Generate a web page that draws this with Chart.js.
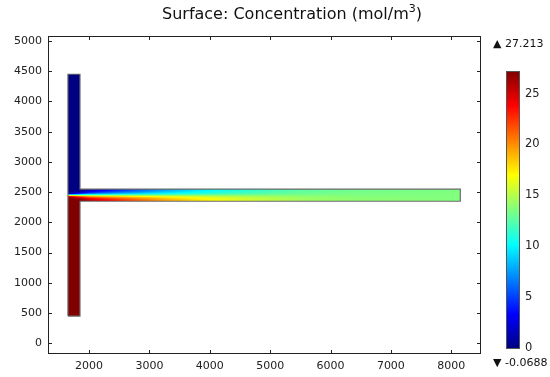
<!DOCTYPE html>
<html>
<head>
<meta charset="utf-8">
<script src="https://cdn.jsdelivr.net/npm/chart.js@4.4.1/dist/chart.umd.min.js"></script>
<style>
  html, body { margin: 0; padding: 0; background: #fff; }
  #wrap { position: relative; width: 550px; height: 377px; overflow: hidden; }
  #main { position: absolute; left: 0; top: 0; }
  #bar { position: absolute; left: 490px; top: 30px; }
</style>
</head>
<body>
<div id="wrap">
  <canvas id="main" width="550" height="377"></canvas>
  <canvas id="bar" width="60" height="347"></canvas>
</div>
<script>
// ---- axis ticks ----
const xTicks = [2000, 3000, 4000, 5000, 6000, 7000, 8000];
const yTicks = [0, 500, 1000, 1500, 2000, 2500, 3000, 3500, 4000, 4500, 5000];
const colorTicks = [0, 5, 10, 15, 20, 25];

// ---- colour range of the surface (mol/m^3) ----
const cMin = -0.0688;
const cMax = 27.213;

// ---- T-mixer geometry (um) ----
const inletX = [1650, 1850];          // vertical inlet channel, x extent
const inletY = [450, 4450];           // vertical inlet channel, y extent
const mixX = [1650, 8150];            // mixing band incl. junction, x extent
const mixY = [2350, 2550];            // mixing band, y extent
const wallX = [1650, 1850, 1850, 8150, 8150, 1850, 1850, 1650, 1650];
const wallY = [450, 450, 2350, 2350, 2550, 2550, 4450, 4450, 450];

// ---- inlet concentrations ----
const cTopInlet = 0;
const cBottomInlet = 27.213;

// ---- concentration across the mixing channel ----
// stations along the channel, levels across it (bottom -> top)
const stationX = [1650, 1850, 2000, 2200, 2500, 2850, 3250, 3700, 4200, 4800, 5500, 6300, 8150];
const levelY = [2350, 2375, 2400, 2425, 2450, 2475, 2500, 2525, 2550];
const conc1650 = [27.2, 27.2, 27.1, 26.2, 13.6, 1.0, 0.1, 0.0, 0.0];
const conc1850 = [27.2, 27.0, 26.0, 22.5, 13.6, 4.7, 1.2, 0.2, 0.0];
const conc2000 = [26.0, 25.3, 23.8, 20.5, 13.6, 6.7, 3.4, 1.9, 1.2];
const conc2200 = [24.5, 24.0, 22.5, 19.5, 13.6, 7.7, 4.7, 3.2, 2.7];
const conc2500 = [23.0, 22.4, 21.0, 18.5, 13.6, 8.7, 6.2, 4.8, 4.2];
const conc2850 = [21.2, 20.8, 19.7, 17.6, 13.6, 9.6, 7.5, 6.4, 6.0];
const conc3250 = [19.6, 19.2, 18.4, 16.8, 13.6, 10.4, 8.8, 8.0, 7.6];
const conc3700 = [18.0, 17.8, 17.2, 16.0, 13.6, 11.2, 10.0, 9.4, 9.2];
const conc4200 = [16.8, 16.6, 16.2, 15.3, 13.6, 11.9, 11.0, 10.6, 10.4];
const conc4800 = [15.6, 15.5, 15.2, 14.7, 13.6, 12.5, 12.0, 11.7, 11.6];
const conc5500 = [14.6, 14.5, 14.4, 14.1, 13.6, 13.1, 12.8, 12.7, 12.6];
const conc6300 = [14.0, 14.0, 13.9, 13.8, 13.6, 13.4, 13.3, 13.2, 13.2];
const conc8150 = [13.65, 13.65, 13.6, 13.6, 13.6, 13.6, 13.6, 13.55, 13.55];
const profiles = [conc1650, conc1850, conc2000, conc2200, conc2500, conc2850, conc3250,
                  conc3700, conc4200, conc4800, conc5500, conc6300, conc8150];

const FONT = 'DejaVu Sans';
Chart.defaults.font.family = FONT;
Chart.defaults.color = '#222';

// rainbow (jet) colour table
function jet(v) {
  let t = (v - cMin) / (cMax - cMin);
  t = Math.max(0, Math.min(1, t));
  const c = (u) => Math.max(0, Math.min(1, 1.5 - Math.abs(u)));
  return [Math.round(255 * c(4 * t - 3)), Math.round(255 * c(4 * t - 2)), Math.round(255 * c(4 * t - 1))];
}
function jetCss(v) { const [r, g, b] = jet(v); return `rgb(${r},${g},${b})`; }

function locate(arr, v) {
  let i = 0;
  while (i < arr.length - 2 && v > arr[i + 1]) i++;
  let f = (v - arr[i]) / (arr[i + 1] - arr[i]);
  return [i, Math.max(0, Math.min(1, f))];
}

// concentration at a point of the domain (null outside it)
function concAt(x, y) {
  if (x >= mixX[0] && x <= mixX[1] && y >= mixY[0] && y <= mixY[1]) {
    const [i, fx] = locate(stationX, x);
    const [j, fy] = locate(levelY, y);
    const a = profiles[i][j], b = profiles[i + 1][j];
    const c = profiles[i][j + 1], d = profiles[i + 1][j + 1];
    return (a * (1 - fx) + b * fx) * (1 - fy) + (c * (1 - fx) + d * fx) * fy;
  }
  if (x >= inletX[0] && x <= inletX[1] && y >= inletY[0] && y <= inletY[1]) {
    return y > mixY[1] ? cTopInlet : cBottomInlet;
  }
  return null;
}

// surface plot painted pixel by pixel through the chart scales
const surfacePlugin = {
  id: 'surface',
  beforeDatasetsDraw(chart) {
    const xs = chart.scales.x, ys = chart.scales.y, ctx = chart.ctx;
    const x0 = Math.floor(xs.getPixelForValue(Math.min(inletX[0], mixX[0])));
    const x1 = Math.ceil(xs.getPixelForValue(mixX[1]));
    const y0 = Math.floor(ys.getPixelForValue(inletY[1]));
    const y1 = Math.ceil(ys.getPixelForValue(inletY[0]));
    const w = x1 - x0, h = y1 - y0;
    const off = document.createElement('canvas');
    off.width = w; off.height = h;
    const octx = off.getContext('2d');
    const img = octx.createImageData(w, h);
    for (let py = 0; py < h; py++) {
      const yv = ys.getValueForPixel(y0 + py + 0.5);
      for (let px = 0; px < w; px++) {
        const xv = xs.getValueForPixel(x0 + px + 0.5);
        const c = concAt(xv, yv);
        if (c === null) continue;
        const [r, g, b] = jet(c);
        const k = (py * w + px) * 4;
        img.data[k] = r; img.data[k + 1] = g; img.data[k + 2] = b; img.data[k + 3] = 255;
      }
    }
    octx.putImageData(img, 0, 0);
    ctx.drawImage(off, x0, y0);
  }
};

// frame, inward ticks and title
const framePlugin = {
  id: 'frame',
  afterDraw(chart) {
    const { ctx, chartArea: a } = chart;
    const xs = chart.scales.x, ys = chart.scales.y;
    ctx.save();
    ctx.strokeStyle = '#222';
    ctx.lineWidth = 1;
    ctx.strokeRect(Math.round(a.left) + 0.5, Math.round(a.top) + 0.5,
                   Math.round(a.right - a.left) - 1, Math.round(a.bottom - a.top) - 1);
    ctx.beginPath();
    xTicks.forEach(v => {
      const p = Math.round(xs.getPixelForValue(v)) + 0.5;
      ctx.moveTo(p, a.bottom); ctx.lineTo(p, a.bottom - 4);
      ctx.moveTo(p, a.top); ctx.lineTo(p, a.top + 4);
    });
    yTicks.forEach(v => {
      const p = Math.round(ys.getPixelForValue(v)) + 0.5;
      ctx.moveTo(a.left, p); ctx.lineTo(a.left + 4, p);
      ctx.moveTo(a.right, p); ctx.lineTo(a.right - 4, p);
    });
    ctx.stroke();

    // title with superscript unit
    ctx.fillStyle = '#111';
    ctx.textBaseline = 'alphabetic';
    ctx.textAlign = 'left';
    const main = 'Surface: Concentration (mol/m';
    ctx.font = `16px ${FONT}`;
    let x = 162;
    const base = 19;
    ctx.fillText(main, x, base);
    x += ctx.measureText(main).width;
    ctx.font = `11px ${FONT}`;
    ctx.fillText('3', x, base - 7);
    x += ctx.measureText('3').width;
    ctx.font = `16px ${FONT}`;
    ctx.fillText(')', x, base);
    ctx.restore();
  }
};

const plain = (v) => String(v);

new Chart(document.getElementById('main'), {
  type: 'scatter',
  data: {
    datasets: [{
      data: wallX.map((x, i) => ({ x, y: wallY[i] })),
      showLine: true,
      borderColor: '#6a6a6a',
      borderWidth: 1.2,
      pointRadius: 0,
      fill: false
    }]
  },
  options: {
    responsive: false,
    animation: false,
    devicePixelRatio: 1,
    layout: { padding: { top: 36, right: 69, left: 0, bottom: 0 } },
    plugins: { legend: { display: false }, tooltip: { enabled: false }, title: { display: false } },
    scales: {
      x: {
        type: 'linear', min: 1320, max: 8493,
        grid: { display: false, drawTicks: false },
        border: { display: false },
        ticks: { font: { size: 11 }, padding: 6, maxRotation: 0, color: '#222', callback: plain },
        afterBuildTicks(s) { s.ticks = xTicks.map(v => ({ value: v })); },
        afterFit(s) { s.height = 23; }
      },
      y: {
        type: 'linear', min: -177, max: 5083,
        grid: { display: false, drawTicks: false },
        border: { display: false },
        ticks: { font: { size: 11 }, padding: 6, color: '#222', callback: plain },
        afterBuildTicks(s) { s.ticks = yTicks.map(v => ({ value: v })); },
        afterFit(s) { s.width = 48; }
      }
    }
  },
  plugins: [surfacePlugin, framePlugin]
});

// colour legend
const legendPlugin = {
  id: 'colorLegend',
  beforeDatasetsDraw(chart) {
    const { ctx, chartArea: a } = chart;
    const ys = chart.scales.y;
    const top = ys.getPixelForValue(cMax), bot = ys.getPixelForValue(cMin);
    const g = ctx.createLinearGradient(0, bot, 0, top);
    const n = 40;
    for (let k = 0; k <= n; k++) {
      g.addColorStop(k / n, jetCss(cMin + (cMax - cMin) * k / n));
    }
    ctx.save();
    ctx.fillStyle = g;
    ctx.fillRect(a.left, top, a.right - a.left, bot - top);
    ctx.strokeStyle = '#555';
    ctx.lineWidth = 1;
    ctx.strokeRect(Math.round(a.left) + 0.5, Math.round(top) + 0.5,
                   Math.round(a.right - a.left) - 1, Math.round(bot - top) - 1);
    ctx.fillStyle = '#111';
    ctx.font = `11px ${FONT}`;
    ctx.textBaseline = 'middle';
    ctx.textAlign = 'left';
    ctx.fillText('\u25B2 ' + cMax.toFixed(3), 3, 14);
    ctx.fillText('\u25BC ' + cMin.toString(), 3, 333);
    ctx.restore();
  }
};

new Chart(document.getElementById('bar'), {
  type: 'scatter',
  data: { datasets: [{ data: [] }] },
  options: {
    responsive: false,
    animation: false,
    devicePixelRatio: 1,
    layout: { padding: { top: 41, left: 16, right: 0, bottom: 28 } },
    plugins: { legend: { display: false }, tooltip: { enabled: false } },
    scales: {
      x: { display: false, min: 0, max: 1 },
      y: {
        type: 'linear', position: 'right', min: cMin, max: cMax,
        grid: { display: false, drawTicks: false },
        border: { display: false },
        ticks: { font: { size: 11.5 }, padding: 5, color: '#222', callback: plain },
        afterBuildTicks(s) { s.ticks = colorTicks.map(v => ({ value: v })); },
        afterFit(s) { s.width = 30; }
      }
    }
  },
  plugins: [legendPlugin]
});
</script>
</body>
</html>
